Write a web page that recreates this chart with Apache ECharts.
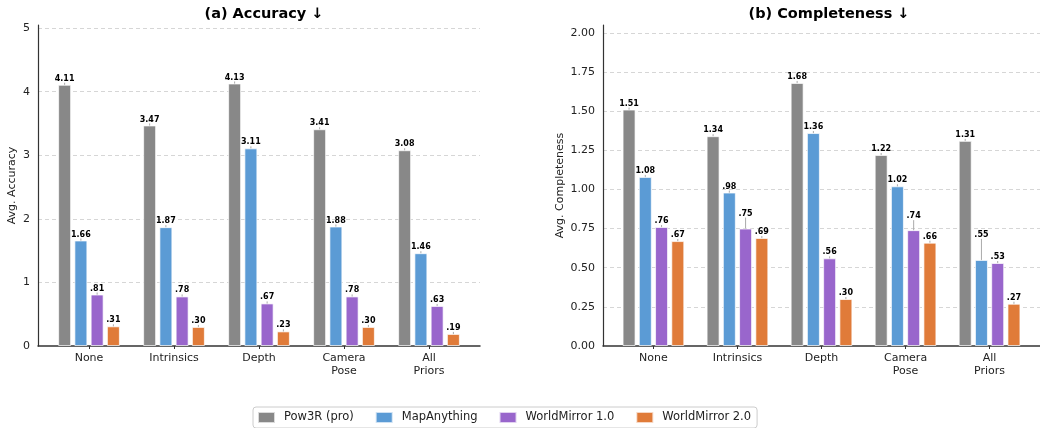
<!DOCTYPE html>
<html>
<head>
<meta charset="utf-8">
<script src="https://cdn.jsdelivr.net/npm/echarts@6/dist/echarts.min.js"></script>
<style>html,body{margin:0;padding:0;background:#fff;}#c{width:1040px;height:428px;}</style>
</head>
<body>
<div id="c"></div>
<script>
const categories = ['None', 'Intrinsics', 'Depth', 'Camera\nPose', 'All\nPriors'];
const methods = ['Pow3R (pro)', 'MapAnything', 'WorldMirror 1.0', 'WorldMirror 2.0'];
const colors = ['#888888', '#5b9bd5', '#9966cc', '#e07b39'];
const accPow3R = [4.11, 3.47, 4.13, 3.41, 3.08];
const accMapAnything = [1.66, 1.87, 3.11, 1.88, 1.46];
const accWM1 = [0.81, 0.78, 0.67, 0.78, 0.63];
const accWM2 = [0.31, 0.30, 0.23, 0.30, 0.19];
const compPow3R = [1.51, 1.34, 1.68, 1.22, 1.31];
const compMapAnything = [1.08, 0.98, 1.36, 1.02, 0.55];
const compWM1 = [0.76, 0.75, 0.56, 0.74, 0.53];
const compWM2 = [0.67, 0.69, 0.30, 0.66, 0.27];
const accTicks = [0, 1, 2, 3, 4, 5];
const compTicks = [0, 0.25, 0.5, 0.75, 1.0, 1.25, 1.5, 1.75, 2.0];

const FONT = 'DejaVu Sans';
const accSeries = [accPow3R, accMapAnything, accWM1, accWM2];
const compSeries = [compPow3R, compMapAnything, compWM1, compWM2];
// label nudges (adjusted labels) keyed "gridIndex-seriesIdx-dataIdx"
const nudges = {'1-2-1': -9, '1-2-3': -8, '1-1-4': -19};

function fmt(v) { return v < 1 ? v.toFixed(2).replace(/^0/, '') : v.toFixed(2); }

const series = [];
[accSeries, compSeries].forEach((group, g) => {
  group.forEach((vals, s) => {
    series.push({
      name: methods[s], type: 'bar',
      xAxisIndex: g, yAxisIndex: g,
      barWidth: 13, barGap: '25%',
      itemStyle: {color: colors[s], borderColor: 'rgba(255,255,255,0.7)', borderWidth: 1},
      label: {show: true, position: 'top', distance: 2, fontFamily: FONT, fontSize: 8,
              fontWeight: 'bold', color: '#000', formatter: p => fmt(p.value[1])},
      labelLine: {show: true, lineStyle: {color: '#aaa', width: 1}},
      labelLayout: function (p) {
        const k = g + '-' + s + '-' + p.dataIndex;
        if (nudges[k]) return {dy: nudges[k]};
        return {};
      },
      data: vals.map((v, i) => [i, v])
    });
  });
});

function xAxis(g) {
  return {
    type: 'value', gridIndex: g, min: -0.6, max: 4.6,
    axisLine: {show: true, onZero: false, lineStyle: {color: '#333', width: 1.5}},
    axisTick: {show: true, length: 3, customValues: [0, 1, 2, 3, 4], lineStyle: {color: '#333'}},
    axisLabel: {customValues: [0, 1, 2, 3, 4], formatter: v => categories[Math.round(v)],
                fontFamily: FONT, fontSize: 11, color: '#222', lineHeight: 13, margin: 6},
    splitLine: {show: false}
  };
}
function yAxis(g, max, interval, name, gap, dec) {
  return {
    type: 'value', gridIndex: g, min: 0, max: max, interval: interval,
    name: name, nameLocation: 'middle', nameGap: gap,
    nameTextStyle: {fontFamily: FONT, fontSize: 11, color: '#222'},
    axisLine: {show: true, onZero: false, lineStyle: {color: '#333', width: 1.2}},
    axisTick: {show: false},
    axisLabel: {showMaxLabel: false, fontFamily: FONT, fontSize: 11, color: '#222', margin: 8,
                formatter: v => dec ? v.toFixed(2) : String(v)},
    splitLine: {show: true, showMaxLine: false, showMinLine: false,
                lineStyle: {color: '#cccccc', type: [4, 3], width: 0.8}}
  };
}

const chart = echarts.init(document.getElementById('c'), null, {renderer: 'canvas'});
chart.setOption({
  animation: false,
  backgroundColor: '#fff',
  title: [
    {text: '(a) Accuracy ↓', left: 259, top: 2, textAlign: 'center',
     textStyle: {fontFamily: FONT, fontSize: 14.5, fontWeight: 'bold', color: '#000'}},
    {text: '(b) Completeness ↓', left: 824, top: 2, textAlign: 'center',
     textStyle: {fontFamily: FONT, fontSize: 14.5, fontWeight: 'bold', color: '#000'}}
  ],
  legend: {
    data: methods, left: 253, top: 407, icon: 'rect', itemWidth: 17, itemHeight: 11, itemGap: 21,
    padding: [4, 6, 4, 4], borderColor: '#cccccc', borderWidth: 1, borderRadius: 3,
    textStyle: {fontFamily: FONT, fontSize: 11.5, color: '#222', padding: [0, 0, 0, 4]}
  },
  grid: [
    {left: 38, top: 25, width: 442, height: 321},
    {left: 603, top: 25, width: 442, height: 321}
  ],
  xAxis: [xAxis(0), xAxis(1)],
  yAxis: [yAxis(0, 5.05, 1, 'Avg. Accuracy', 20, false),
          yAxis(1, 2.05, 0.25, 'Avg. Completeness', 37, true)],
  series: series
});
</script>
</body>
</html>
